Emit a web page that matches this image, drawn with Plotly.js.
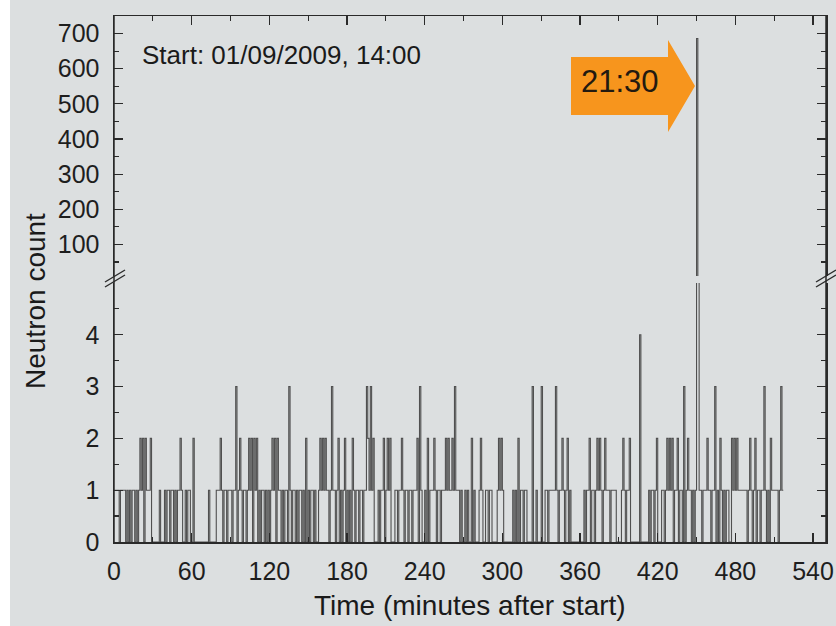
<!DOCTYPE html>
<html>
<head>
<meta charset="utf-8">
<script src="https://cdn.plot.ly/plotly-3.0.1.min.js"></script>
<style>
  html, body { margin: 0; padding: 0; background: #ffffff; }
  #chart { width: 836px; height: 626px; }
</style>
</head>
<body>
<div id="chart"></div>
<script>
// ---- data ----
const startMinute = 0;          // minutes after 14:00, 01/09/2009
const counts = [
  1,1,1,1,0,1,1,1,1,0,  1,0,1,0,1,1,0,1,0,1,  2,1,2,0,2,1,1,1,2,0,
  0,0,0,0,0,1,0,0,0,1,  0,1,1,0,1,1,0,1,0,1,  1,2,1,0,0,1,0,1,1,0,
  0,2,0,0,0,0,0,0,0,0,  0,0,0,1,0,0,0,0,0,1,  1,1,2,1,0,1,1,0,1,1,
  1,0,1,1,3,0,1,2,1,0,  1,1,0,1,2,1,2,0,2,1,  2,0,1,0,1,1,0,1,0,1,
  0,1,2,1,2,0,2,1,1,0,  1,0,1,1,0,3,1,0,1,1,  0,1,0,1,1,0,1,0,2,0,
  1,0,1,1,0,1,0,0,1,2,  1,2,1,2,1,1,0,1,3,1,  1,0,1,2,0,1,0,1,2,0,
  1,0,1,0,2,1,0,1,1,0,  1,1,0,1,1,3,2,1,3,1,  2,0,0,0,1,0,1,1,2,0,
  1,2,1,2,0,0,0,1,1,0,  1,1,2,1,0,1,1,0,1,1,  0,1,1,1,2,0,3,1,0,0,
  1,0,2,0,1,1,1,2,1,0,  1,1,0,1,1,1,2,1,2,1,  1,2,1,3,1,1,1,0,1,0,
  0,1,0,1,0,0,2,0,1,0,  0,0,1,2,1,0,0,1,1,0,  1,1,0,0,0,0,1,2,1,2,
  1,0,0,0,0,0,0,0,1,0,  1,0,2,0,1,1,0,1,1,0,  0,0,0,3,0,0,1,0,0,0,
  3,0,0,1,1,0,1,1,1,1,  1,3,1,0,1,1,2,1,0,1,  2,0,1,0,0,0,0,0,0,0,
  0,0,0,1,0,1,1,2,0,1,  1,0,1,2,1,2,1,0,1,2,  1,1,1,0,1,1,1,1,0,0,
  0,0,1,2,1,0,1,1,2,0,  0,0,0,0,0,0,4,0,0,0,  0,0,0,1,0,1,1,0,1,2,
  0,0,0,1,1,0,1,2,1,2,  1,2,0,1,1,2,0,1,1,0,  3,0,1,2,1,1,0,1,0,1,
  686,7,1,1,0,1,1,1,2,1,  1,0,1,1,3,0,1,0,2,1,  0,1,0,1,1,0,0,2,1,2,
  1,2,1,1,1,1,1,1,1,0,  1,2,1,0,1,2,0,1,1,0,  1,1,3,1,0,1,0,2,1,1,
  1,1,1,0,1,3,1,1
];
const minutes = counts.map((_, i) => startMinute + i);

const xTickVals = [0, 60, 120, 180, 240, 300, 360, 420, 480, 540];
const xMinorVals = [30, 90, 150, 210, 270, 330, 390, 450, 510];
const lowTickVals = [0, 1, 2, 3, 4];
const lowMinorVals = [0.5, 1.5, 2.5, 3.5, 4.5];
const highTickVals = [100, 200, 300, 400, 500, 600, 700];
const highMinorVals = [50, 150, 250, 350, 450, 550, 650];

const startLabel = 'Start: 01/09/2009, 14:00';
const eventLabel = '21:30';
const xTitle = 'Time (minutes after start)';
const yTitle = 'Neutron count';

// ---- geometry helpers (pixel -> paper) ----
const L = 114, R = 826, T = 16, B = 542;
const px = x => (x - L) / (R - L);
const py = y => (B - y) / (B - T);

const FONT = 'Liberation Sans, Arial, sans-serif';
const INK = '#2a2a2a';
const BG = '#dcdfe0';
const LINE = '#505050';

const common = {
  x: minutes, y: counts, type: 'scatter', mode: 'lines',
  line: { shape: 'hv', color: LINE, width: 1.1 },
  hoverinfo: 'skip', showlegend: false
};

const traces = [
  Object.assign({}, common, { xaxis: 'x', yaxis: 'y' }),
  Object.assign({}, common, { xaxis: 'x2', yaxis: 'y2' })
];

const tickFont = { family: FONT, size: 25, color: '#1e1e1e' };

const yCommon = {
  showgrid: false, zeroline: false, showline: true, linecolor: INK, linewidth: 1.5,
  mirror: 'ticks', ticks: 'inside', ticklen: 9, tickwidth: 1.2, tickcolor: INK,
  tickfont: tickFont, ticklabelstandoff: 8, fixedrange: true
};

const layout = {
  width: 836, height: 626,
  margin: { l: L, r: 836 - R, t: T, b: 626 - B },
  paper_bgcolor: BG, plot_bgcolor: BG,
  font: { family: FONT, color: INK },
  xaxis: {
    anchor: 'y', domain: [0, 1], range: [0, 550],
    tickmode: 'array', tickvals: xTickVals,
    minor: { tickmode: 'array', tickvals: xMinorVals, ticks: 'inside', ticklen: 5, tickcolor: INK, tickwidth: 1.2 },
    ticks: 'inside', ticklen: 9, tickwidth: 1.2, tickcolor: INK,
    showgrid: false, zeroline: false, showline: true, linecolor: INK, linewidth: 1.5,
    tickfont: tickFont, ticklabelstandoff: 6, fixedrange: true
  },
  xaxis2: {
    anchor: 'y2', side: 'top', matches: 'x', range: [0, 550],
    tickmode: 'array', tickvals: xTickVals, showticklabels: false,
    minor: { tickmode: 'array', tickvals: xMinorVals, ticks: 'inside', ticklen: 5, tickcolor: INK, tickwidth: 1.2 },
    ticks: 'inside', ticklen: 9, tickwidth: 1.2, tickcolor: INK,
    showgrid: false, zeroline: false, showline: true, linecolor: INK, linewidth: 1.5,
    fixedrange: true
  },
  yaxis: Object.assign({}, yCommon, {
    anchor: 'x', domain: [0, py(283)], range: [0, 5],
    tickmode: 'array', tickvals: lowTickVals,
    minor: { tickmode: 'array', tickvals: lowMinorVals, ticks: 'inside', ticklen: 5, tickcolor: INK, tickwidth: 1.2 }
  }),
  yaxis2: Object.assign({}, yCommon, {
    anchor: 'x2', domain: [py(276), 1], range: [10, 750],
    tickmode: 'array', tickvals: highTickVals,
    minor: { tickmode: 'array', tickvals: highMinorVals, ticks: 'inside', ticklen: 5, tickcolor: INK, tickwidth: 1.2 }
  }),
  shapes: [
    { type: 'line', xref: 'paper', yref: 'paper', x0: 0, x1: 0, y0: 0, y1: 1, line: { color: INK, width: 1.5 } },
    { type: 'line', xref: 'paper', yref: 'paper', x0: 1, x1: 1, y0: 0, y1: 1, line: { color: INK, width: 1.5 } },
    { type: 'line', xref: 'paper', yref: 'paper', x0: px(105), y0: py(287), x1: px(125), y1: py(275), line: { color: INK, width: 1.4 } },
    { type: 'line', xref: 'paper', yref: 'paper', x0: px(105), y0: py(282), x1: px(125), y1: py(270), line: { color: INK, width: 1.4 } },
    { type: 'line', xref: 'paper', yref: 'paper', x0: px(816), y0: py(287), x1: px(836), y1: py(275), line: { color: INK, width: 1.4 } },
    { type: 'line', xref: 'paper', yref: 'paper', x0: px(816), y0: py(282), x1: px(836), y1: py(270), line: { color: INK, width: 1.4 } },
    {
      type: 'path', xref: 'paper', yref: 'paper', layer: 'above',
      path: 'M ' + px(571) + ' ' + py(57) + ' L ' + px(668) + ' ' + py(57) + ' L ' + px(668) + ' ' + py(40) +
            ' L ' + px(695) + ' ' + py(86) + ' L ' + px(668) + ' ' + py(132) + ' L ' + px(668) + ' ' + py(115) +
            ' L ' + px(571) + ' ' + py(115) + ' Z',
      fillcolor: '#f7951d', line: { width: 0 }
    },
    { type: 'rect', xref: 'paper', yref: 'paper', x0: px(0), x1: px(10), y0: py(626), y1: py(0), fillcolor: '#ffffff', line: { width: 0 }, layer: 'below' }
  ],
  annotations: [
    { text: startLabel, xref: 'paper', yref: 'paper', x: px(140), y: py(55), xanchor: 'left', yanchor: 'middle',
      showarrow: false, font: { family: FONT, size: 26, color: '#1a1a1a' } },
    { text: eventLabel, xref: 'paper', yref: 'paper', x: px(620), y: py(82), xanchor: 'center', yanchor: 'middle',
      showarrow: false, font: { family: FONT, size: 31, color: '#231a10' } },
    { text: yTitle, xref: 'paper', yref: 'paper', x: px(35), y: py(301), xanchor: 'center', yanchor: 'middle',
      textangle: -90, showarrow: false, font: { family: FONT, size: 28, color: '#1a1a1a' } },
    { text: xTitle, xref: 'paper', yref: 'paper', x: 0.5, y: py(605), xanchor: 'center', yanchor: 'middle',
      showarrow: false, font: { family: FONT, size: 28, color: '#1a1a1a' } }
  ]
};

Plotly.newPlot('chart', traces, layout, { staticPlot: true, displayModeBar: false });
</script>
</body>
</html>
